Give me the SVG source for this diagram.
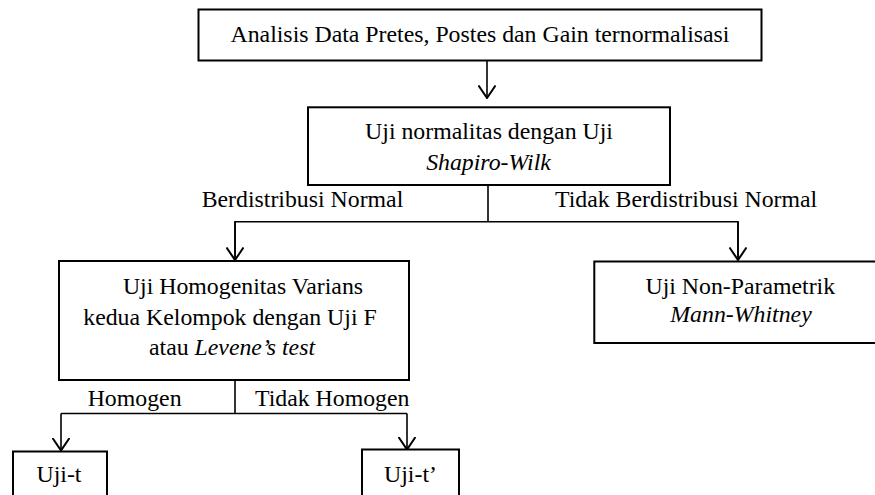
<svg xmlns="http://www.w3.org/2000/svg" width="875" height="495" viewBox="0 0 875 495">
<defs>
<style>
.box{fill:#fff;stroke:#000;stroke-width:2}
.t{font-family:"Liberation Serif","Times New Roman",serif;font-size:23.8px;fill:#000}
.c{text-anchor:middle}
.i{font-style:italic}
.ln{stroke:#000;stroke-width:1.6;fill:none}
</style>
<marker id="arr" viewBox="0 0 14 18" refX="13" refY="9" markerWidth="14" markerHeight="18" markerUnits="userSpaceOnUse" orient="auto">
<path d="M0.5,0.5 L13,9 L0.5,17.5" fill="none" stroke="#000" stroke-width="2"/>
</marker>
</defs>
<rect width="875" height="495" fill="#fff"/>
<g id="connectors">
<line class="ln" x1="487" y1="60.5" x2="487" y2="98" marker-end="url(#arr)"/>
<line class="ln" x1="488" y1="185" x2="488" y2="221.7"/>
<polyline class="ln" points="235,260 235,221.7 738,221.7 738,260"/>
<line class="ln" x1="235" y1="221.7" x2="235" y2="260" marker-end="url(#arr)"/>
<line class="ln" x1="738" y1="221.7" x2="738" y2="260" marker-end="url(#arr)"/>
<line class="ln" x1="235" y1="380" x2="235" y2="413.5"/>
<polyline class="ln" points="61,413.5 407,413.5"/>
<line class="ln" x1="61" y1="413.5" x2="61" y2="450.5" marker-end="url(#arr)"/>
<line class="ln" x1="407" y1="413.5" x2="407" y2="449.5" marker-end="url(#arr)"/>
<text class="t" x="201.7" y="207">Berdistribusi Normal</text>
<text class="t" x="555" y="207">Tidak Berdistribusi Normal</text>
<text class="t" x="87.7" y="406">Homogen</text>
<text class="t" x="255" y="406">Tidak Homogen</text>
</g>
<g id="node-analisis">
<rect class="box" x="198.5" y="9.5" width="563" height="51"/>
<text class="t c" x="480" y="42">Analisis Data Pretes, Postes dan Gain ternormalisasi</text>
</g>
<g id="node-normalitas">
<rect class="box" x="308" y="107.3" width="362" height="77.7"/>
<text class="t c" x="489" y="138.5">Uji normalitas dengan Uji</text>
<text class="t c i" x="488.5" y="170">Shapiro-Wilk</text>
</g>
<g id="node-homogenitas">
<rect class="box" x="59" y="261" width="350" height="119"/>
<text class="t c" x="243" y="293.5">Uji Homogenitas Varians</text>
<text class="t c" x="230" y="325">kedua Kelompok dengan Uji F</text>
<text class="t c" x="232" y="355">atau <tspan class="i">Levene’s test</tspan></text>
</g>
<g id="node-nonparametrik">
<rect class="box" x="594.3" y="261.5" width="300" height="81.5"/>
<text class="t c" x="740.3" y="293.5">Uji Non-Parametrik</text>
<text class="t c i" x="741" y="321.7">Mann-Whitney</text>
</g>
<g id="node-ujit">
<rect class="box" x="13" y="451.5" width="94" height="60"/>
<text class="t c" x="59" y="482">Uji-t</text>
</g>
<g id="node-ujit2">
<rect class="box" x="362" y="449.5" width="97" height="60"/>
<text class="t c" x="410.5" y="482">Uji-t’</text>
</g>
</svg>
